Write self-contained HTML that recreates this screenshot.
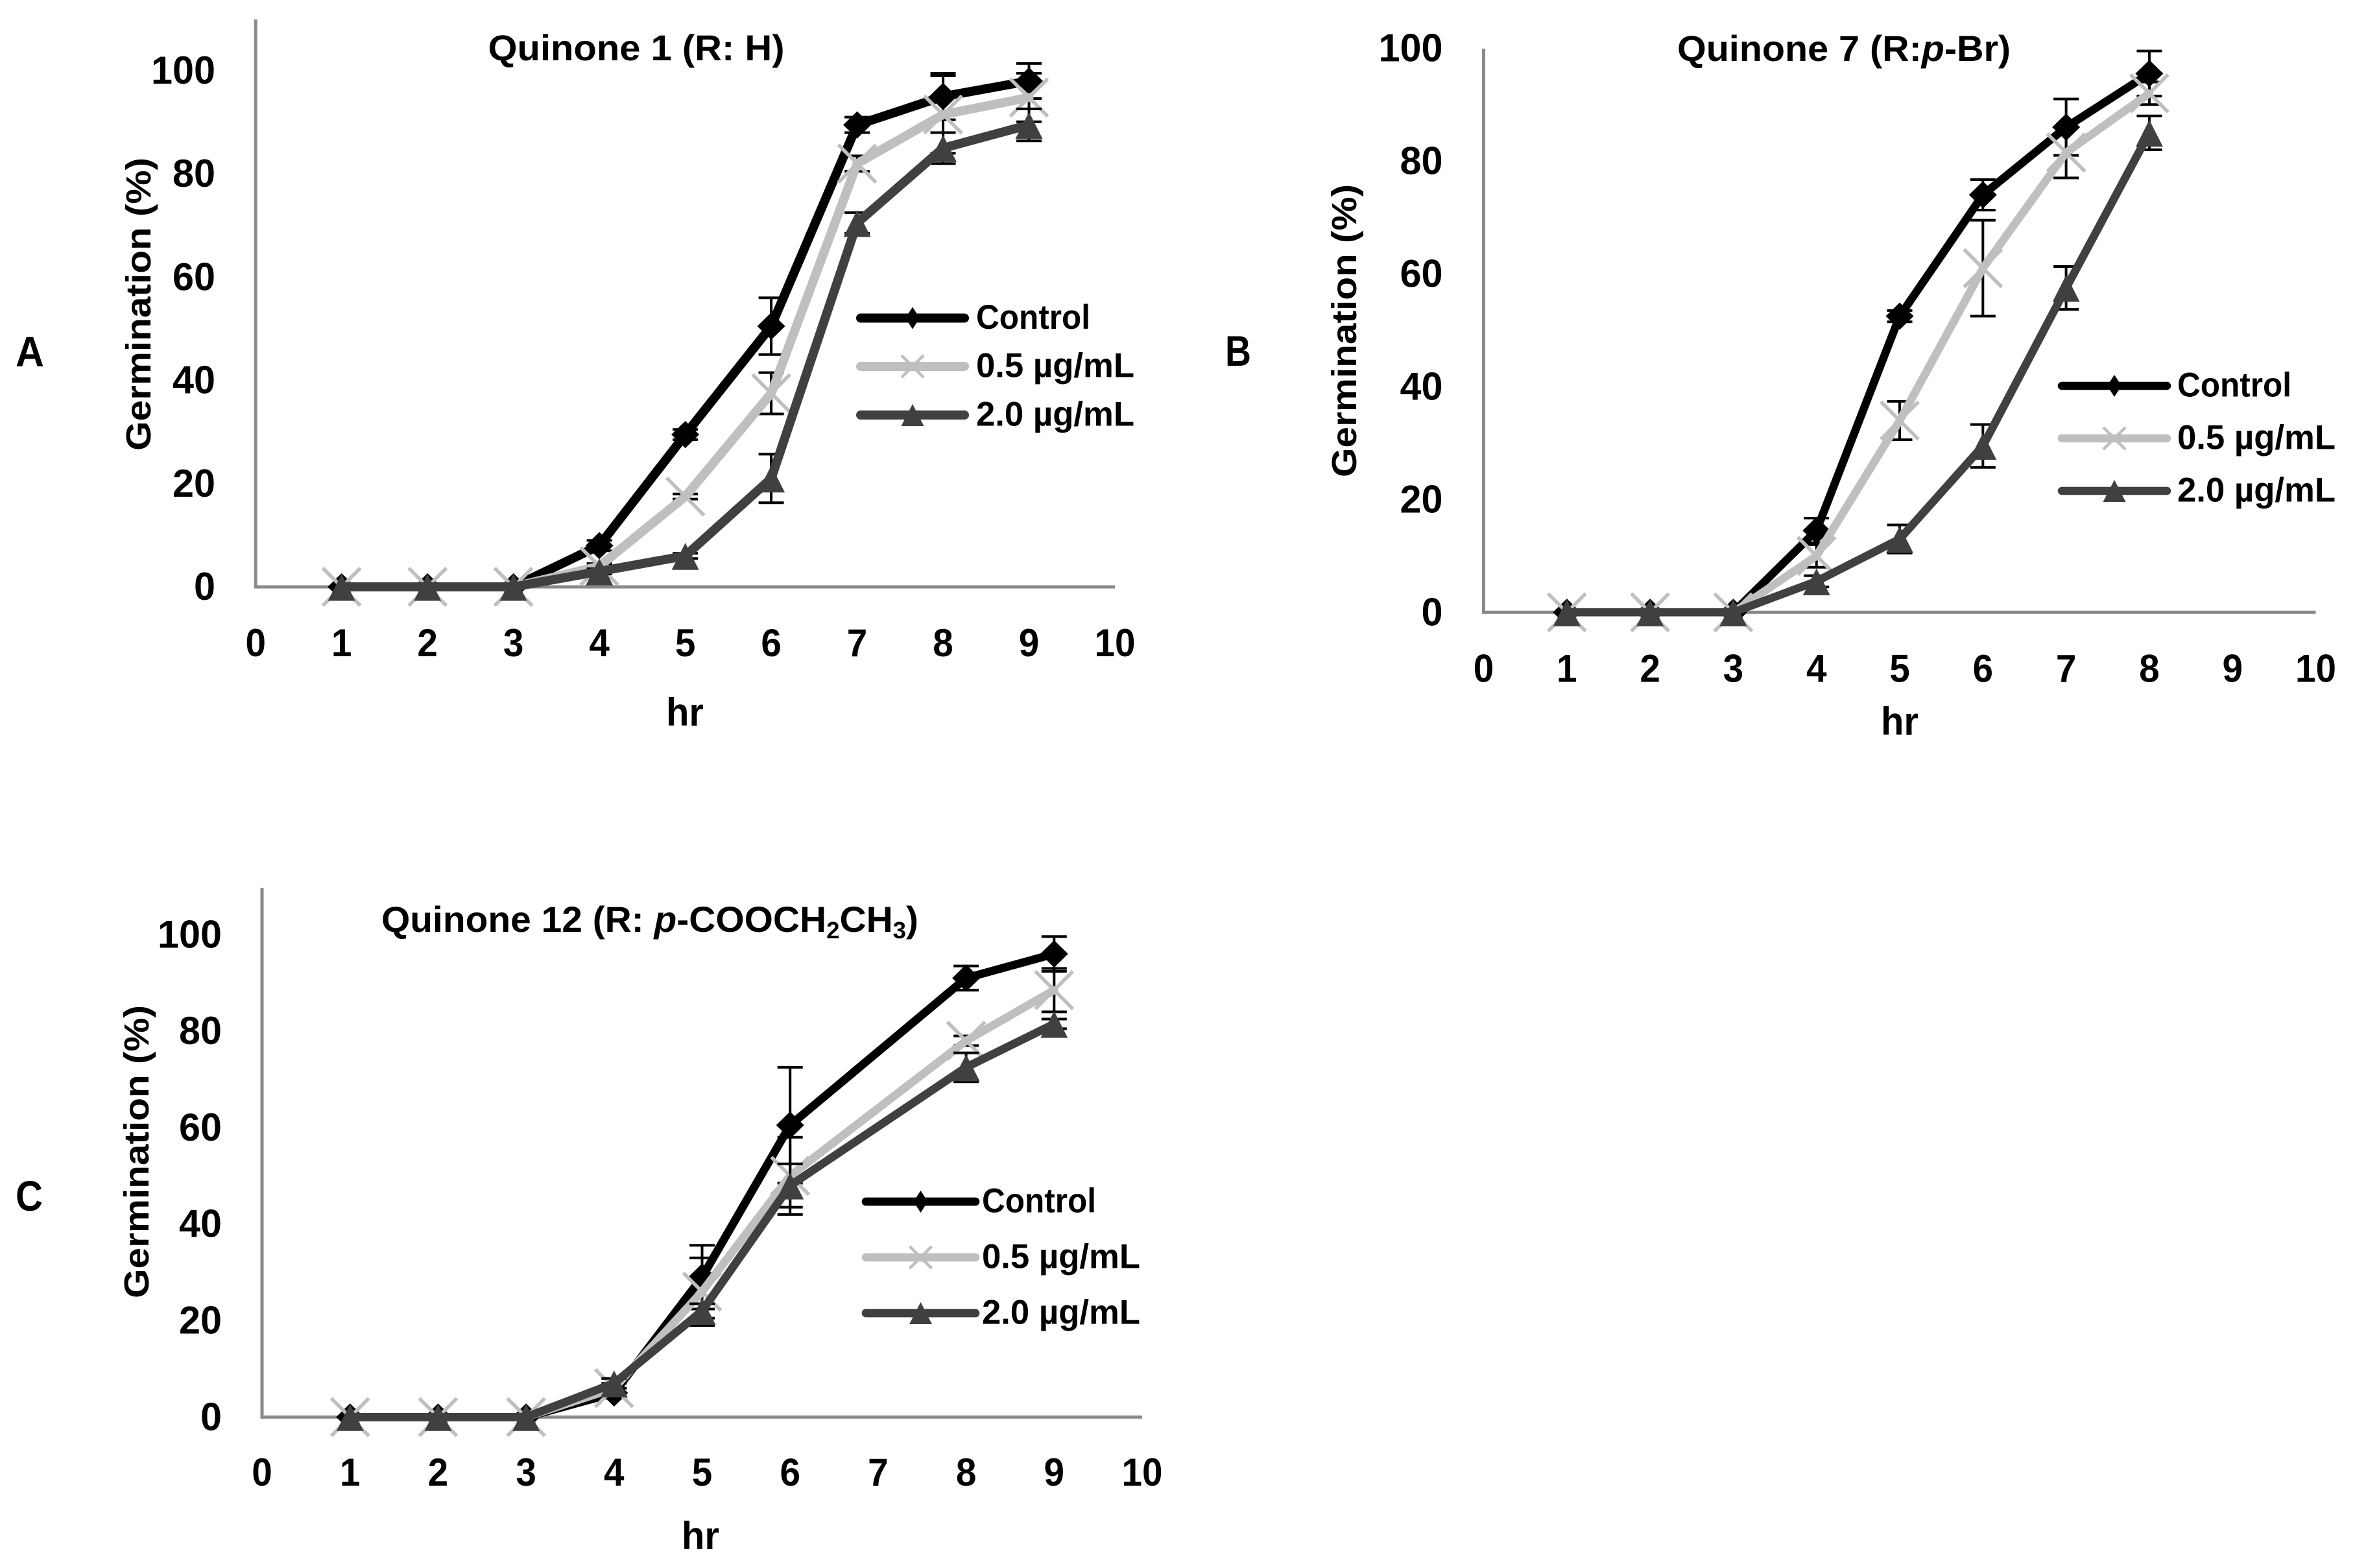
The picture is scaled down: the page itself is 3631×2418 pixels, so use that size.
<!DOCTYPE html>
<html lang="en">
<head>
<meta charset="utf-8">
<title>Germination charts</title>
<style>
html,body{margin:0;padding:0;background:#fff;}
svg{display:block;}
text{font-family:"Liberation Sans",sans-serif;font-weight:700;fill:#000;}
</style>
</head>
<body>
<svg id="figure" xmlns="http://www.w3.org/2000/svg" width="3631" height="2418" viewBox="0 0 3631 2418">
  <rect width="3631" height="2418" fill="#ffffff"/>
  <text x="46" y="565" font-size="66" text-anchor="middle" textLength="44" lengthAdjust="spacingAndGlyphs">A</text>
  <text x="1909" y="564" font-size="66" text-anchor="middle" textLength="40" lengthAdjust="spacingAndGlyphs">B</text>
  <text x="45" y="1867" font-size="66" text-anchor="middle" textLength="42" lengthAdjust="spacingAndGlyphs">C</text>
  <text x="981" y="93" font-size="56" text-anchor="middle" textLength="457" lengthAdjust="spacingAndGlyphs">Quinone 1 (R: H)</text>
  <text x="2843" y="94" font-size="56" text-anchor="middle" textLength="514" lengthAdjust="spacingAndGlyphs">Quinone 7 (R:<tspan font-style="italic">p</tspan>-Br)</text>
  <text x="1002" y="1437" font-size="56" text-anchor="middle" textLength="828" lengthAdjust="spacingAndGlyphs">Quinone 12 (R: <tspan font-style="italic">p</tspan>-COOCH<tspan font-size="36" dy="10">2</tspan><tspan dy="-10">CH</tspan><tspan font-size="36" dy="10">3</tspan><tspan dy="-10">)</tspan></text>
  <g id="plots"></g>
</svg>
<script>
// Shared tick labels
const xTickLabels = [0, 1, 2, 3, 4, 5, 6, 7, 8, 9, 10];
const yTickLabels = [0, 20, 40, 60, 80, 100];
const seriesNames = ["Control", "0.5 µg/mL", "2.0 µg/mL"];

// Panel A: Quinone 1
const hoursA = [1, 2, 3, 4, 5, 6, 7, 8, 9];
const controlA = [0, 0, 0, 8, 29.5, 50.5, 89.5, 95, 98];
const lowDoseA = [0, 0, 0, 4, 17.5, 37.5, 82, 91.5, 94.8];
const highDoseA = [0, 0, 0, 3, 6, 21, 70.5, 85, 89.5];
const controlErrA = [0, 0, 0, 1, 1, 5.5, 1.5, 4.5, 3.4];
const lowDoseErrA = [0, 0, 0, 0.5, 0.5, 4, 1.5, 7.5, 4.7];
const highDoseErrA = [0, 0, 0, 0.5, 0.5, 4.7, 2, 3, 3.1];

// Panel B: Quinone 7
const hoursB = [1, 2, 3, 4, 5, 6, 7, 8];
const controlB = [0, 0, 0, 14.5, 52.5, 74, 86, 95.5];
const lowDoseB = [0, 0, 0, 10, 34, 61, 81.5, 92];
const highDoseB = [0, 0, 0, 5.5, 13, 29.5, 57.5, 85];
const controlErrB = [0, 0, 0, 2.2, 1, 2.7, 5, 4];
const lowDoseErrB = [0, 0, 0, 2, 3.4, 8.5, 4.5, 2];
const highDoseErrB = [0, 0, 0, 1, 2.5, 3.8, 3.8, 3];

// Panel C: Quinone 12 (no reading at hour 7)
const hoursC = [1, 2, 3, 4, 5, 6, 8, 9];
const controlC = [0, 0, 0, 5, 29, 60.5, 91, 96];
const lowDoseC = [0, 0, 0, 6, 26, 50, 78, 88.5];
const highDoseC = [0, 0, 0, 7, 22, 48, 72.5, 81.5];
const controlErrC = [0, 0, 0, 1, 6.6, 12, 2.5, 3.6];
const lowDoseErrC = [0, 0, 0, 1, 7, 8, 1, 4.5];
const highDoseErrC = [0, 0, 0, 1, 1.5, 4.5, 3, 1];

const NS = "http://www.w3.org/2000/svg";
const plots = document.getElementById("plots");
const colors = ["#000000", "#bfbfbf", "#404040"];
const seriesKeys = ["control", "low-dose", "high-dose"];

function make(parent, tag, attrs) {
  const el = document.createElementNS(NS, tag);
  for (const k in attrs) el.setAttribute(k, attrs[k]);
  parent.appendChild(el);
  return el;
}

function drawMarker(g, kind, cx, cy, legend) {
  if (kind === 0) {
    const hw = legend ? 11 : 21.5, hh = legend ? 17 : 21;
    const m = make(g, "polygon", {
      points: cx + "," + (cy - hh) + " " + (cx + hw) + "," + cy + " " + cx + "," + (cy + hh) + " " + (cx - hw) + "," + cy,
      fill: colors[0]
    });
    
    
  } else if (kind === 1) {
    const r = legend ? 17 : 29;
    const m = make(g, "path", {
      d: "M" + (cx - r) + " " + (cy - r) + "L" + (cx + r) + " " + (cy + r) + "M" + (cx + r) + " " + (cy - r) + "L" + (cx - r) + " " + (cy + r),
      stroke: colors[1], "stroke-width": legend ? 4.5 : 5.5, fill: "none"
    });
    
    
  } else {
    const hw = legend ? 17.5 : 21, top = legend ? 17 : 20, bot = legend ? 17 : 21.5;
    const m = make(g, "polygon", {
      points: cx + "," + (cy - top) + " " + (cx + hw) + "," + (cy + bot) + " " + (cx - hw) + "," + (cy + bot),
      fill: colors[2]
    });
    
    
  }
}

function drawPanel(p) {
  const xAt = v => p.x0 + (p.x10 - p.x0) * v / 10;
  const yAt = v => p.y0 - p.yUnit * v;

  const g = make(plots, "g", {});
  
  

  const yAxis = make(g, "line", { x1: p.x0, x2: p.x0, y1: p.yAxisTop, y2: p.y0 + 2.5, stroke: "#8a8a8a", "stroke-width": 5 });
  
  
  const xAxis = make(g, "line", { x1: p.x0, x2: p.x10, y1: p.y0, y2: p.y0, stroke: "#8a8a8a", "stroke-width": 5 });
  
  

  xTickLabels.forEach(v => {
    const t = make(g, "text", { x: xAt(v), y: p.xLabelY + 21.5, "font-size": 60, "text-anchor": "middle", textLength: String(v).length * 31.5, lengthAdjust: "spacingAndGlyphs" });
    t.textContent = v;
    
    
  });
  yTickLabels.forEach(v => {
    const t = make(g, "text", { x: p.yLabelX, y: yAt(v) + 20, "font-size": 60, "text-anchor": "end", textLength: String(v).length * 33, lengthAdjust: "spacingAndGlyphs" });
    t.textContent = v;
    
    
  });

  const xt = make(g, "text", { x: p.xTitleX, y: p.xTitleY + 20, "font-size": 60, "text-anchor": "middle", textLength: 58, lengthAdjust: "spacingAndGlyphs" });
  xt.textContent = "hr";
  
  

  const yt = make(g, "text", {
    x: 0, y: 0, "font-size": 54, "text-anchor": "middle", textLength: 452, lengthAdjust: "spacingAndGlyphs",
    transform: "translate(" + p.yTitleX + "," + p.yTitleY + ") rotate(-90)"
  });
  yt.textContent = "Germination (%)";
  
  

  p.series.forEach((vals, s) => {
    const sg = make(g, "g", {});
    
    

    const errs = p.errors[s];
    p.hours.forEach((h, i) => {
      if (!errs[i] || vals[i] === 0) return;
      const cx = xAt(h), hi = yAt(vals[i] + errs[i]), lo = yAt(vals[i] - errs[i]);
      const eb = make(sg, "path", {
        d: "M" + cx + " " + hi + "L" + cx + " " + lo + "M" + (cx - 19.5) + " " + hi + "L" + (cx + 19.5) + " " + hi + "M" + (cx - 19.5) + " " + lo + "L" + (cx + 19.5) + " " + lo,
        stroke: "#000", "stroke-width": 4, fill: "none"
      });
      
      
    });

    const pts = p.hours.map((h, i) => xAt(h) + "," + yAt(vals[i])).join(" ");
    const line = make(sg, "polyline", { points: pts, fill: "none", stroke: colors[s], "stroke-width": p.lineWidth, "stroke-linejoin": "round", "stroke-linecap": "round" });
    
    

    p.hours.forEach((h, i) => drawMarker(sg, s, xAt(h), yAt(vals[i]), false));
  });

  seriesNames.forEach((name, s) => {
    const lg = make(g, "g", {});
    
    
    const y = p.legendY[s];
    const l = make(lg, "line", { x1: p.legendX1, x2: p.legendX2, y1: y, y2: y, stroke: colors[s], "stroke-width": p.lineWidth, "stroke-linecap": "round" });
    
    
    drawMarker(lg, s, (p.legendX1 + p.legendX2) / 2, y, true);
    const t = make(lg, "text", { x: p.legendTextX, y: y + 16.5, "font-size": 53, textLength: s === 0 ? 176 : 244, lengthAdjust: "spacingAndGlyphs" });
    t.textContent = name;
    
    
  });
}

drawPanel({
  id: "a", hours: hoursA, series: [controlA, lowDoseA, highDoseA], errors: [controlErrA, lowDoseErrA, highDoseErrA],
  x0: 394.2, x10: 1719, y0: 905, yUnit: 7.96, yAxisTop: 30, yLabelX: 332, xLabelY: 990.5, lineWidth: 14,
  xTitleX: 1056, xTitleY: 1099, yTitleX: 232, yTitleY: 469,
  legendX1: 1327, legendX2: 1487, legendY: [490.5, 565, 640], legendTextX: 1505
});
drawPanel({
  id: "b", hours: hoursB, series: [controlB, lowDoseB, highDoseB], errors: [controlErrB, lowDoseErrB, highDoseErrB],
  x0: 2287.5, x10: 3570.5, y0: 944.3, yUnit: 8.7, yAxisTop: 75, yLabelX: 2224.5, xLabelY: 1030, lineWidth: 12.5,
  xTitleX: 2929, xTitleY: 1113, yTitleX: 2091, yTitleY: 510,
  legendX1: 3179, legendX2: 3341, legendY: [595, 676, 757], legendTextX: 3357
});
drawPanel({
  id: "c", hours: hoursC, series: [controlC, lowDoseC, highDoseC], errors: [controlErrC, lowDoseErrC, highDoseErrC],
  x0: 404, x10: 1761, y0: 2185.3, yUnit: 7.44, yAxisTop: 1369, yLabelX: 342, xLabelY: 2269.5, lineWidth: 12.7,
  xTitleX: 1080, xTitleY: 2369, yTitleX: 229, yTitleY: 1776,
  legendX1: 1335, legendX2: 1504, legendY: [1853, 1939, 2025], legendTextX: 1514
});
</script>
</body>
</html>
